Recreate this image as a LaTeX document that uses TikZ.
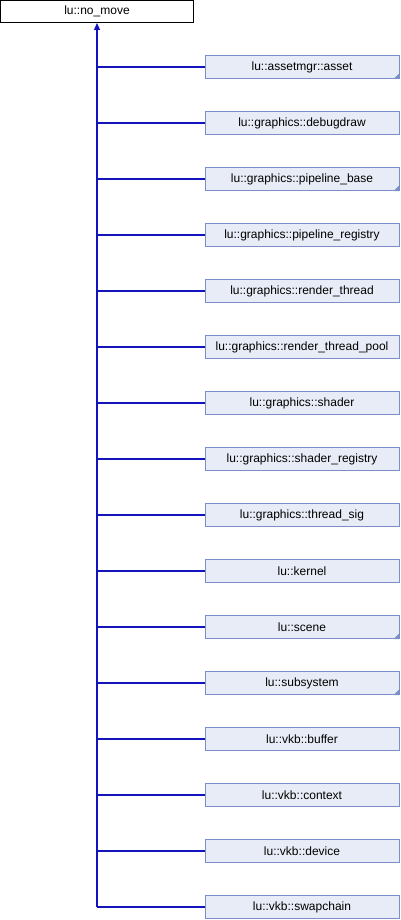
\documentclass[tikz,border=0pt]{standalone}
\usepackage{fontspec}
\setmainfont{Liberation Sans}
\usepackage{tikz}
\usetikzlibrary{arrows.meta}

\definecolor{boxfill}{RGB}{232,236,246}
\definecolor{boxline}{RGB}{122,142,200}
\definecolor{edgeblue}{RGB}{20,20,190}

\tikzset{
  classbox/.style={draw=boxline, fill=boxfill, line width=1pt, rectangle,
    minimum width=194pt, minimum height=23pt, inner sep=0pt,
    font=\fontsize{12}{14}\selectfont},
  basebox/.style={classbox, draw=black, fill=white, minimum width=193pt, minimum height=22pt},
  inheritline/.style={draw=edgeblue, line width=1.2pt}
}

% small mark for classes with more children
\newcommand{\morekids}[1]{\fill[boxline] (#1.south east) -- ++(0,-6) -- ++(-6,6) -- cycle;}

\begin{document}
\begin{tikzpicture}[x=1pt,y=-1pt]
\useasboundingbox (0,0) rectangle (400,920);

% Base class
\node[basebox] (nomove) at (97,11.5) {lu::no\_move};

% Derived classes
\node[classbox] (asset) at (302,67) {lu::assetmgr::asset};
\node[classbox] (debugdraw) at (302,123) {lu::graphics::debugdraw};
\node[classbox] (pipebase) at (302,179) {lu::graphics::pipeline\_base};
\node[classbox] (pipereg) at (302,235) {lu::graphics::pipeline\_registry};
\node[classbox] (rthread) at (302,291) {lu::graphics::render\_thread};
\node[classbox] (rpool) at (302,347) {lu::graphics::render\_thread\_pool};
\node[classbox] (shader) at (302,403) {lu::graphics::shader};
\node[classbox] (shaderreg) at (302,459) {lu::graphics::shader\_registry};
\node[classbox] (threadsig) at (302,515) {lu::graphics::thread\_sig};
\node[classbox] (kernel) at (302,571) {lu::kernel};
\node[classbox] (scene) at (302,627) {lu::scene};
\node[classbox] (subsystem) at (302,683) {lu::subsystem};
\node[classbox] (buffer) at (302,739) {lu::vkb::buffer};
\node[classbox] (context) at (302,795) {lu::vkb::context};
\node[classbox] (device) at (302,851) {lu::vkb::device};
\node[classbox] (swapchain) at (302,907) {lu::vkb::swapchain};

\morekids{asset}
\morekids{pipebase}
\morekids{scene}
\morekids{subsystem}

% Inheritance edges
\foreach \n in {asset,debugdraw,pipebase,pipereg,rthread,rpool,shader,shaderreg,
  threadsig,kernel,scene,subsystem,buffer,context,device,swapchain} {
    \draw[inheritline] (\n.west) -- (nomove.south |- \n.west);
}
\draw[inheritline, -{Triangle[width=6pt,length=7pt]}] (nomove.south |- swapchain.west) -- (nomove.south);
\end{tikzpicture}
\end{document}
